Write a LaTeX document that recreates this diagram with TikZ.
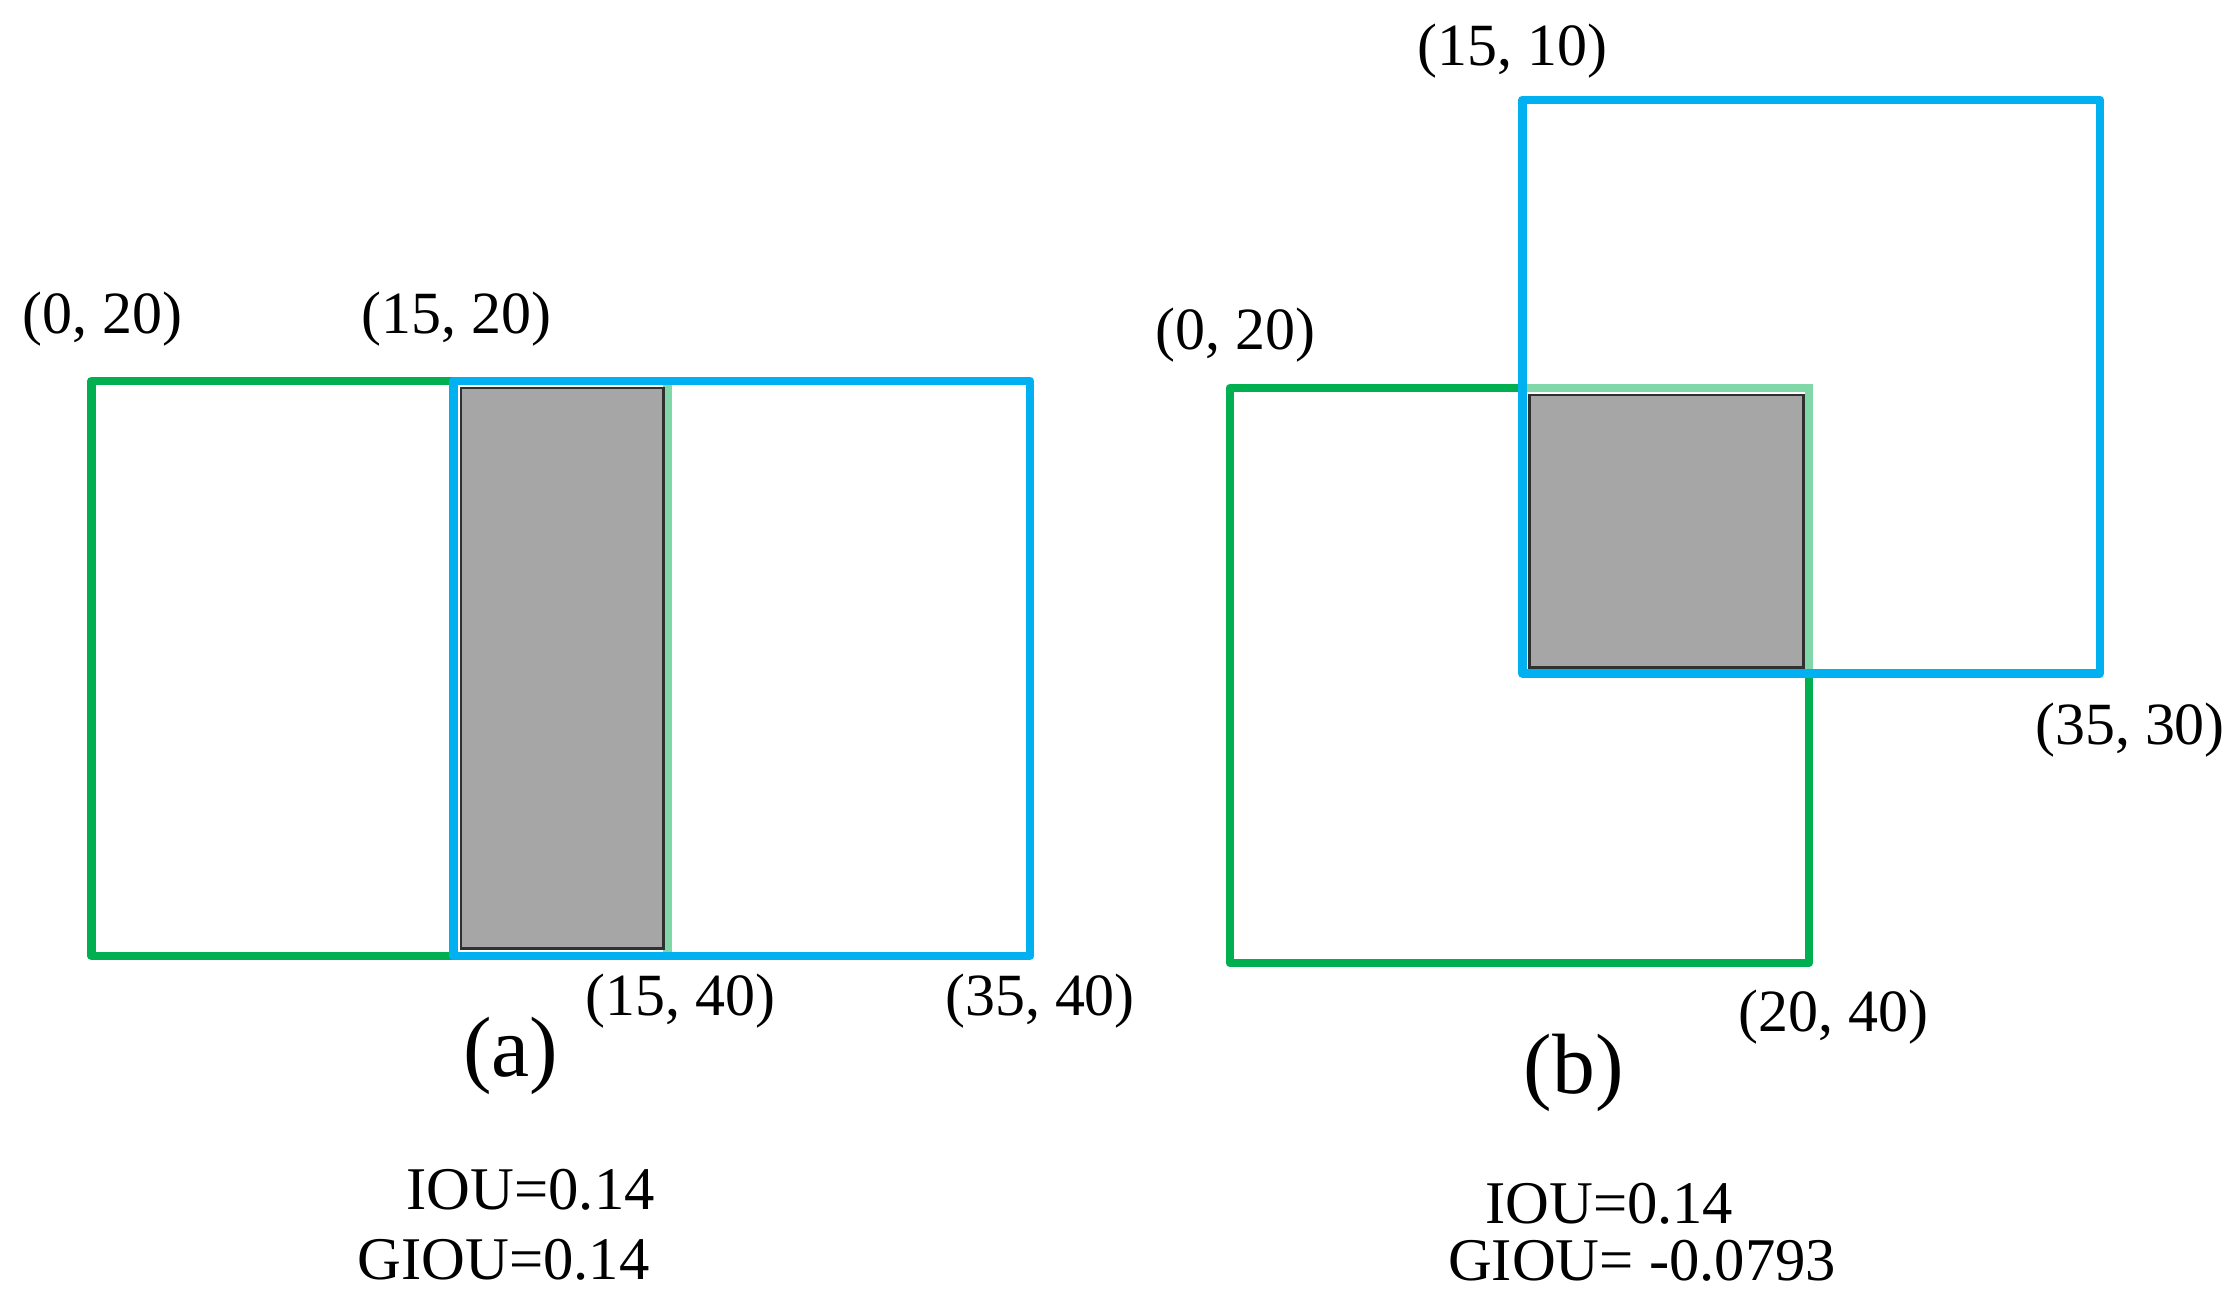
\documentclass[tikz,border=0pt]{standalone}
\usepackage{fontspec}
\setmainfont{Liberation Serif}
\definecolor{gboxc}{HTML}{00B050}
\definecolor{lgboxc}{HTML}{80D8A8}
\definecolor{bboxc}{HTML}{00B0F0}
\definecolor{grayfill}{HTML}{A6A6A6}
\definecolor{grayedge}{HTML}{303030}
\tikzset{
  gbox/.style={draw=gboxc, line width=6pt, line join=round},
  lgbox/.style={draw=lgboxc, line width=6pt},
  bbox/.style={draw=bboxc, line width=6pt, line join=round},
  inter/.style={fill=grayfill, draw=grayedge, line width=1.8pt},
  lbl/.style={inner sep=0pt, font=\fontsize{42}{46}\selectfont},
  sub/.style={inner sep=0pt, font=\fontsize{60}{64}\selectfont},
  res/.style={inner sep=0pt, font=\fontsize{42.5}{46}\selectfont},
}
\begin{document}
\begin{tikzpicture}[x=1pt,y=-1pt]
\useasboundingbox (0,0) rectangle (1568,920);
% ---------- (a)
\draw[gbox] (64,267) rectangle (468,670);
\draw[lgbox] (468,270) -- (468,667);
\draw[bbox] (318,267) rectangle (722,670);
\draw[inter] (323,272) rectangle (465,665);
\node[lbl] (a1) at (72,224) {(0, 20)};
\node[lbl] (a2) at (320,224) {(15, 20)};
\node[lbl] (a3) at (477,702) {(15, 40)};
\node[lbl] (a4) at (729,702) {(35, 40)};
\node[sub] (a5) at (358,740) {(a)};
\node[res] (a6) at (372,834) {IOU=0.14};
\node[res] (a7) at (353,883) {GIOU=0.14};
% ---------- (b)
\draw[gbox] (862,272) rectangle (1268,675);
\draw[lgbox] (1070,272) -- (1268,272) -- (1268,469);
\draw[bbox] (1067,70) rectangle (1472,472);
\draw[inter] (1072,277) rectangle (1264,468);
\node[lbl] (b1) at (1060,36) {(15, 10)};
\node[lbl] (b2) at (866,235) {(0, 20)};
\node[lbl] (b3) at (1493,512) {(35, 30)};
\node[lbl] (b4) at (1285,713) {(20, 40)};
\node[sub] (b5) at (1103,752) {(b)};
\node[res] (b6) at (1128,844) {IOU=0.14};
\node[res] (b7) at (1151,884) {GIOU= -0.0793};
\end{tikzpicture}
\end{document}
